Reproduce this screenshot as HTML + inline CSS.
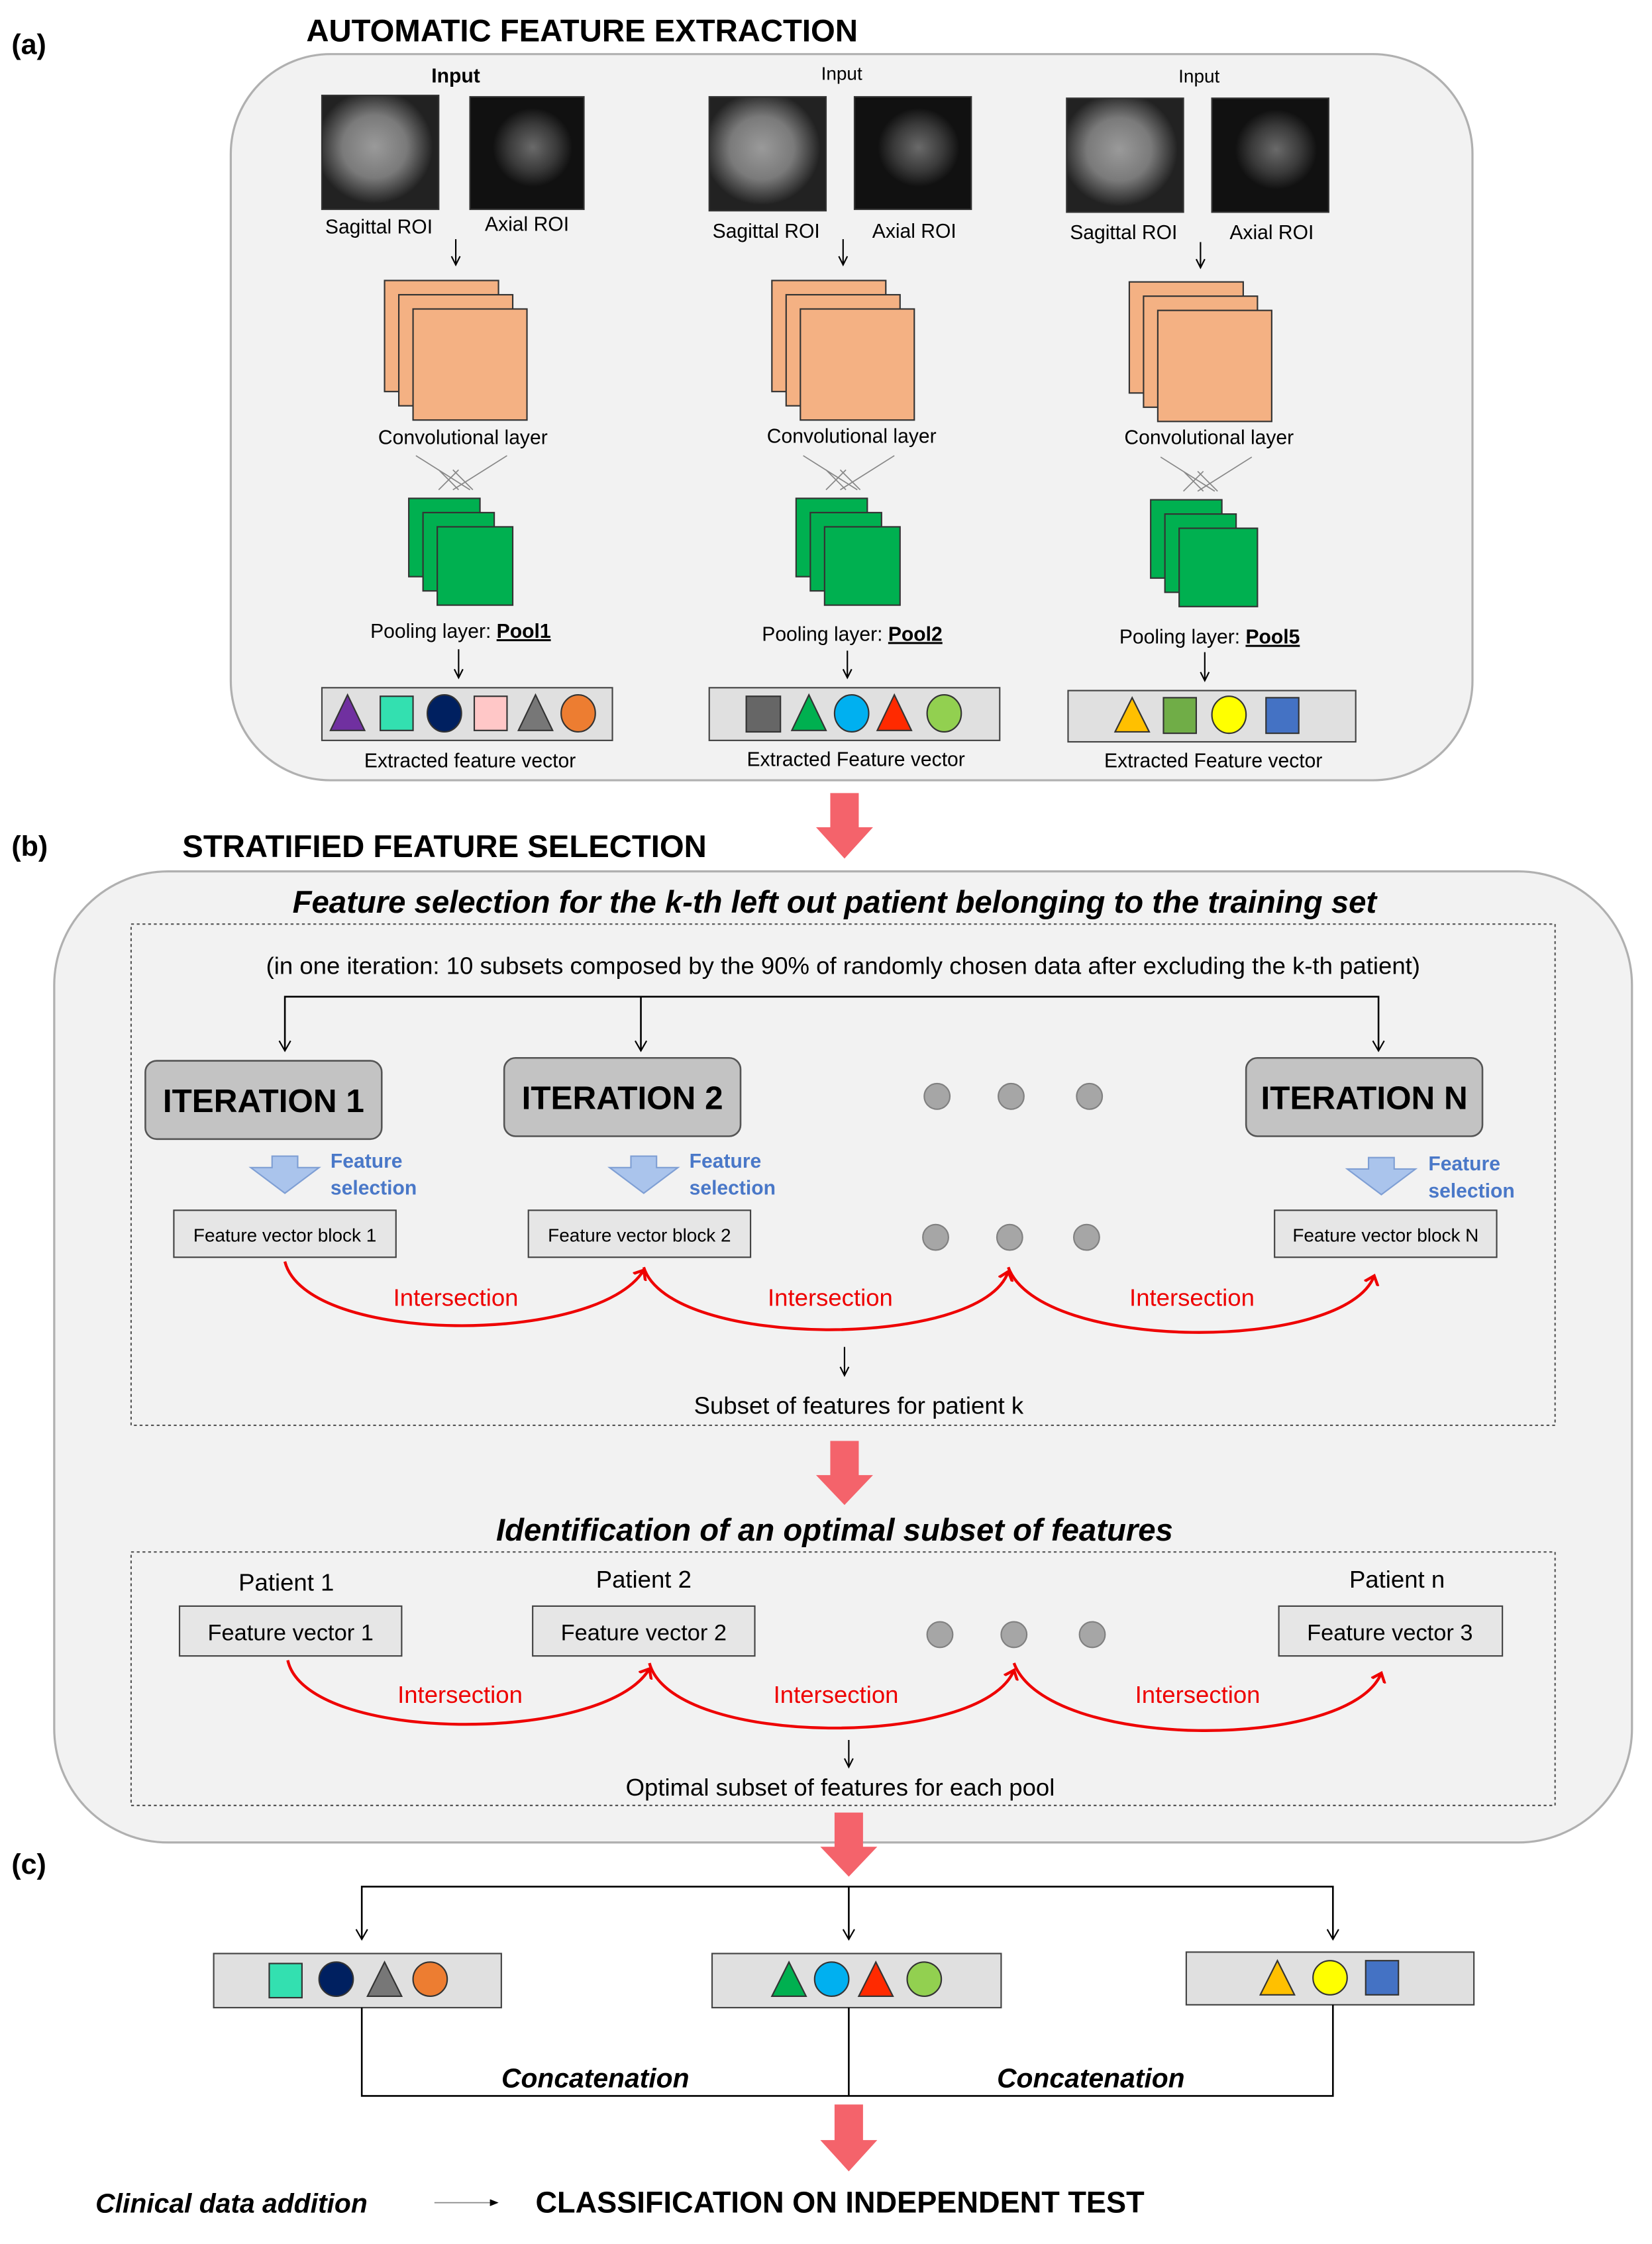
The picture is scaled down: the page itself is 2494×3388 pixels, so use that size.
<!DOCTYPE html>
<html><head><meta charset="utf-8"><style>
html,body{margin:0;padding:0;background:#fff}
svg{display:block}
text{font-family:"Liberation Sans",sans-serif}
</style></head><body>
<svg width="2494" height="3388" viewBox="0 0 1160 1576" xmlns="http://www.w3.org/2000/svg">
<defs>
<radialGradient id="sag" cx="45%" cy="45%" r="50%"><stop offset="0" stop-color="#9a9a9a"/><stop offset="0.55" stop-color="#7a7a7a"/><stop offset="1" stop-color="#222"/></radialGradient>
<radialGradient id="ax" cx="55%" cy="45%" r="35%"><stop offset="0" stop-color="#6a6a6a"/><stop offset="0.6" stop-color="#3a3a3a"/><stop offset="1" stop-color="#111"/></radialGradient>
<marker id="rar" markerWidth="12" markerHeight="12" refX="6" refY="6" orient="auto" markerUnits="userSpaceOnUse"><path d="M0,1 L6,6 L0,11" fill="none" stroke="#e00" stroke-width="2"/></marker>
</defs>
<rect width="1160" height="1576" fill="#fff"/>

<!-- (a) -->
<text x="8" y="38" font-size="20" font-weight="bold">(a)</text>
<text x="215" y="29" font-size="22" font-weight="bold">AUTOMATIC FEATURE EXTRACTION</text>
<rect x="162" y="38" width="872" height="510" rx="70" fill="#f2f2f2" stroke="#b0b0b0" stroke-width="1.5"/>

<g>
<text x="320" y="58" font-size="14" font-weight="bold" text-anchor="middle">Input</text>
<rect x="226" y="67" width="82" height="80" fill="url(#sag)" stroke="#333"/>
<rect x="330" y="68" width="80" height="79" fill="url(#ax)" stroke="#333"/>
<text x="266" y="164" font-size="14" text-anchor="middle">Sagittal ROI</text>
<text x="370" y="162" font-size="14" text-anchor="middle">Axial ROI</text>
<rect x="270" y="197" width="80" height="78" fill="#f4b183" stroke="#333"/>
<rect x="280" y="207" width="80" height="78" fill="#f4b183" stroke="#333"/>
<rect x="290" y="217" width="80" height="78" fill="#f4b183" stroke="#333"/>
<text x="325" y="312" font-size="14" text-anchor="middle">Convolutional layer</text>
<path d="M292,320 L330,344 M356,320 L318,344 M308,330 L322,344 M322,330 L308,344 M318,330 L332,344" stroke="#888" fill="none" stroke-width="0.8"/>
<rect x="287" y="350" width="50" height="55" fill="#00b050" stroke="#333"/>
<rect x="297" y="360" width="50" height="55" fill="#00b050" stroke="#333"/>
<rect x="307" y="370" width="53" height="55" fill="#00b050" stroke="#333"/>
<text x="260" y="448" font-size="14">Pooling layer: <tspan font-weight="bold" text-decoration="underline">Pool1</tspan></text>
<rect x="226" y="483" width="204" height="37" fill="#e0e0e0" stroke="#444"/>
<text x="330" y="539" font-size="14" text-anchor="middle">Extracted feature vector</text>
</g>
<polygon points="244,488 232,513 256,513" fill="#7030a0" stroke="#333"/>
<rect x="267" y="489" width="23" height="24" fill="#33e0b0" stroke="#333"/>
<ellipse cx="312" cy="501" rx="12" ry="13" fill="#002060" stroke="#333"/>
<rect x="333" y="489" width="23" height="24" fill="#ffc7c7" stroke="#333"/>
<polygon points="376,488 364,513 388,513" fill="#777" stroke="#333"/>
<ellipse cx="406" cy="501" rx="12" ry="13" fill="#ed7d31" stroke="#333"/>

<g>
<text x="591" y="56" font-size="13" text-anchor="middle">Input</text>
<rect x="498" y="68" width="82" height="80" fill="url(#sag)" stroke="#333"/>
<rect x="600" y="68" width="82" height="79" fill="url(#ax)" stroke="#333"/>
<text x="538" y="167" font-size="14" text-anchor="middle">Sagittal ROI</text>
<text x="642" y="167" font-size="14" text-anchor="middle">Axial ROI</text>
<rect x="542" y="197" width="80" height="78" fill="#f4b183" stroke="#333"/>
<rect x="552" y="207" width="80" height="78" fill="#f4b183" stroke="#333"/>
<rect x="562" y="217" width="80" height="78" fill="#f4b183" stroke="#333"/>
<text x="598" y="311" font-size="14" text-anchor="middle">Convolutional layer</text>
<path d="M564,320 L602,344 M628,320 L590,344 M580,330 L594,344 M594,330 L580,344 M590,330 L604,344" stroke="#888" fill="none" stroke-width="0.8"/>
<rect x="559" y="350" width="50" height="55" fill="#00b050" stroke="#333"/>
<rect x="569" y="360" width="50" height="55" fill="#00b050" stroke="#333"/>
<rect x="579" y="370" width="53" height="55" fill="#00b050" stroke="#333"/>
<text x="535" y="450" font-size="14">Pooling layer: <tspan font-weight="bold" text-decoration="underline">Pool2</tspan></text>
<rect x="498" y="483" width="204" height="37" fill="#e0e0e0" stroke="#444"/>
<text x="601" y="538" font-size="14" text-anchor="middle">Extracted Feature vector</text>
</g>
<rect x="524" y="489" width="24" height="25" fill="#666" stroke="#333"/>
<polygon points="568,488 556,513 580,513" fill="#00b050" stroke="#333"/>
<ellipse cx="598" cy="501" rx="12" ry="13" fill="#00b0f0" stroke="#333"/>
<polygon points="628,488 616,513 640,513" fill="#ff2a00" stroke="#333"/>
<ellipse cx="663" cy="501" rx="12" ry="13" fill="#92d050" stroke="#333"/>

<g>
<text x="842" y="58" font-size="13" text-anchor="middle">Input</text>
<rect x="749" y="69" width="82" height="80" fill="url(#sag)" stroke="#333"/>
<rect x="851" y="69" width="82" height="80" fill="url(#ax)" stroke="#333"/>
<text x="789" y="168" font-size="14" text-anchor="middle">Sagittal ROI</text>
<text x="893" y="168" font-size="14" text-anchor="middle">Axial ROI</text>
<rect x="793" y="198" width="80" height="78" fill="#f4b183" stroke="#333"/>
<rect x="803" y="208" width="80" height="78" fill="#f4b183" stroke="#333"/>
<rect x="813" y="218" width="80" height="78" fill="#f4b183" stroke="#333"/>
<text x="849" y="312" font-size="14" text-anchor="middle">Convolutional layer</text>
<path d="M815,321 L853,345 M879,321 L841,345 M831,331 L845,345 M845,331 L831,345 M841,331 L855,345" stroke="#888" fill="none" stroke-width="0.8"/>
<rect x="808" y="351" width="50" height="55" fill="#00b050" stroke="#333"/>
<rect x="818" y="361" width="50" height="55" fill="#00b050" stroke="#333"/>
<rect x="828" y="371" width="55" height="55" fill="#00b050" stroke="#333"/>
<text x="786" y="452" font-size="14">Pooling layer: <tspan font-weight="bold" text-decoration="underline">Pool5</tspan></text>
<rect x="750" y="485" width="202" height="36" fill="#e0e0e0" stroke="#444"/>
<text x="852" y="539" font-size="14" text-anchor="middle">Extracted Feature vector</text>
</g>
<polygon points="795,490 783,514 807,514" fill="#ffc000" stroke="#333"/>
<rect x="817" y="490" width="23" height="25" fill="#70ad47" stroke="#333"/>
<ellipse cx="863" cy="502" rx="12" ry="13" fill="#ffff00" stroke="#333"/>
<rect x="889" y="490" width="23" height="25" fill="#4472c4" stroke="#333"/>

<!-- small black down arrows -->
<g stroke="#000" stroke-width="1" fill="none">
<path d="M320,168 V186 M317,180 L320,186 L323,180"/>
<path d="M592,168 V186 M589,180 L592,186 L595,180"/>
<path d="M843,170 V188 M840,182 L843,188 L846,182"/>
<path d="M322,456 V476 M319,470 L322,476 L325,470"/>
<path d="M595,457 V476 M592,470 L595,476 L598,470"/>
<path d="M846,458 V478 M843,472 L846,478 L849,472"/>
</g>

<!-- (b) -->
<text x="8" y="601" font-size="20" font-weight="bold">(b)</text>
<text x="128" y="602" font-size="22" font-weight="bold">STRATIFIED FEATURE SELECTION</text>
<rect x="38" y="612" width="1108" height="682" rx="80" fill="#f2f2f2" stroke="#b0b0b0" stroke-width="1.5"/>
<text x="586" y="641" font-size="22" font-weight="bold" font-style="italic" text-anchor="middle">Feature selection for the k-th left out patient belonging to the training set</text>
<rect x="92" y="649" width="1000" height="352" fill="none" stroke="#555" stroke-dasharray="2,2"/>
<text x="592" y="684" font-size="17" text-anchor="middle">(in one iteration: 10 subsets composed by the 90% of randomly chosen data after excluding the k-th patient)</text>
<path d="M200,738 V700 H968 V738 M450,700 V738" fill="none" stroke="#000" stroke-width="1.2"/>
<path d="M196,731 L200,738 L204,731 M446,731 L450,738 L454,731 M964,731 L968,738 L972,731" fill="none" stroke="#000"/>
<g fill="#c3c3c3" stroke="#555" stroke-width="1.2">
<rect x="102" y="745" width="166" height="55" rx="8"/>
<rect x="354" y="743" width="166" height="55" rx="8"/>
<rect x="875" y="743" width="166" height="55" rx="8"/>
</g>
<g font-size="23" font-weight="bold" text-anchor="middle">
<text x="185" y="781">ITERATION 1</text>
<text x="437" y="779">ITERATION 2</text>
<text x="958" y="779">ITERATION N</text>
</g>
<g fill="#a6a6a6" stroke="#808080">
<circle cx="658" cy="770" r="9"/><circle cx="710" cy="770" r="9"/><circle cx="765" cy="770" r="9"/>
<circle cx="657" cy="869" r="9"/><circle cx="709" cy="869" r="9"/><circle cx="763" cy="869" r="9"/>
<circle cx="660" cy="1148" r="9"/><circle cx="712" cy="1148" r="9"/><circle cx="767" cy="1148" r="9"/>
</g>
<g fill="#aac4ec" stroke="#7f9fd4">
<polygon points="191,812 209,812 209,820 224,820 200,838 176,820 191,820"/>
<polygon points="443,812 461,812 461,820 476,820 452,838 428,820 443,820"/>
<polygon points="961,813 979,813 979,821 994,821 970,839 946,821 961,821"/>
</g>
<g font-size="14" font-weight="bold" fill="#4a78c8">
<text x="232" y="820">Feature</text><text x="232" y="839">selection</text>
<text x="484" y="820">Feature</text><text x="484" y="839">selection</text>
<text x="1003" y="822">Feature</text><text x="1003" y="841">selection</text>
</g>
<g fill="#e6e6e6" stroke="#444">
<rect x="122" y="850" width="156" height="33"/>
<rect x="371" y="850" width="156" height="33"/>
<rect x="895" y="850" width="156" height="33"/>
</g>
<g font-size="13" text-anchor="middle">
<text x="200" y="872">Feature vector block 1</text>
<text x="449" y="872">Feature vector block 2</text>
<text x="973" y="872">Feature vector block N</text>
</g>
<g fill="none" stroke="#e00" stroke-width="2">
<path d="M200,886 C215,945 420,945 452,892" marker-end="url(#rar)"/>
<path d="M452,890 C470,948 690,948 708,893" marker-end="url(#rar)"/>
<path d="M708,890 C730,950 945,950 965,896" marker-end="url(#rar)"/>
<path d="M202,1166 C215,1225 425,1225 456,1172" marker-end="url(#rar)"/>
<path d="M456,1168 C472,1228 690,1228 712,1173" marker-end="url(#rar)"/>
<path d="M712,1168 C735,1230 948,1230 970,1175" marker-end="url(#rar)"/>
</g>
<g font-size="17" fill="#e00" text-anchor="middle">
<text x="320" y="917">Intersection</text>
<text x="583" y="917">Intersection</text>
<text x="837" y="917">Intersection</text>
<text x="323" y="1196">Intersection</text>
<text x="587" y="1196">Intersection</text>
<text x="841" y="1196">Intersection</text>
</g>
<path d="M593,946 V966 M590,960 L593,966 L596,960" stroke="#000" fill="none"/>
<text x="603" y="993" font-size="17" text-anchor="middle">Subset of features for patient k</text>
<text x="586" y="1082" font-size="22" font-weight="bold" font-style="italic" text-anchor="middle">Identification of an optimal subset of features</text>
<rect x="92" y="1090" width="1000" height="178" fill="none" stroke="#555" stroke-dasharray="2,2"/>
<g font-size="17" text-anchor="middle">
<text x="201" y="1117">Patient 1</text>
<text x="452" y="1115">Patient 2</text>
<text x="981" y="1115">Patient n</text>
</g>
<g fill="#e6e6e6" stroke="#444">
<rect x="126" y="1128" width="156" height="35"/>
<rect x="374" y="1128" width="156" height="35"/>
<rect x="898" y="1128" width="157" height="35"/>
</g>
<g font-size="16" text-anchor="middle">
<text x="204" y="1152">Feature vector  1</text>
<text x="452" y="1152">Feature vector  2</text>
<text x="976" y="1152">Feature vector  3</text>
</g>
<path d="M596,1222 V1241 M593,1235 L596,1241 L599,1235" stroke="#000" fill="none"/>
<text x="590" y="1261" font-size="17" text-anchor="middle">Optimal subset of features for each pool</text>

<!-- red arrows (on top) -->
<g fill="#f4636b">
<polygon points="583,557 603,557 603,581 613,581 593,603 573,581 583,581"/>
<polygon points="583,1012 603,1012 603,1036 613,1036 593,1057 573,1036 583,1036"/>
<polygon points="586,1273 606,1273 606,1297 616,1297 596,1318 576,1297 586,1297"/>
<polygon points="586,1478 606,1478 606,1503 616,1503 596,1525 576,1503 586,1503"/>
</g>

<!-- (c) -->
<text x="8" y="1316" font-size="20" font-weight="bold">(c)</text>
<path d="M254,1362 V1325 H936 V1362 M596,1325 V1362" fill="none" stroke="#000" stroke-width="1.2"/>
<path d="M250,1355 L254,1362 L258,1355 M592,1355 L596,1362 L600,1355 M932,1355 L936,1362 L940,1355" fill="none" stroke="#000"/>
<g fill="#e0e0e0" stroke="#444">
<rect x="150" y="1372" width="202" height="38"/>
<rect x="500" y="1372" width="203" height="38"/>
<rect x="833" y="1371" width="202" height="37"/>
</g>
<rect x="189" y="1379" width="23" height="24" fill="#33e0b0" stroke="#333"/>
<ellipse cx="236" cy="1390" rx="12" ry="12" fill="#002060" stroke="#333"/>
<polygon points="270,1378 258,1402 282,1402" fill="#777" stroke="#333"/>
<ellipse cx="302" cy="1390" rx="12" ry="12" fill="#ed7d31" stroke="#333"/>
<polygon points="554,1378 542,1402 566,1402" fill="#00b050" stroke="#333"/>
<ellipse cx="584" cy="1390" rx="12" ry="12" fill="#00b0f0" stroke="#333"/>
<polygon points="615,1378 603,1402 627,1402" fill="#ff2a00" stroke="#333"/>
<ellipse cx="649" cy="1390" rx="12" ry="12" fill="#92d050" stroke="#333"/>
<polygon points="897,1377 885,1401 909,1401" fill="#ffc000" stroke="#333"/>
<ellipse cx="934" cy="1389" rx="12" ry="12" fill="#ffff00" stroke="#333"/>
<rect x="959" y="1377" width="23" height="24" fill="#4472c4" stroke="#333"/>
<path d="M254,1410 V1472 H936 V1408 M596,1410 V1472" fill="none" stroke="#000" stroke-width="1.2"/>
<g font-size="19" font-weight="bold" font-style="italic" text-anchor="middle">
<text x="418" y="1466">Concatenation</text>
<text x="766" y="1466">Concatenation</text>
</g>
<text x="67" y="1554" font-size="19" font-weight="bold" font-style="italic">Clinical data addition</text>
<line x1="305" y1="1547" x2="348" y2="1547" stroke="#888" stroke-width="0.8"/>
<path d="M344,1545 L349,1547 L344,1549" fill="#000" stroke="#000" stroke-width="0.8"/>
<text x="376" y="1554" font-size="21" font-weight="bold">CLASSIFICATION ON INDEPENDENT TEST</text>
</svg>
</body></html>
